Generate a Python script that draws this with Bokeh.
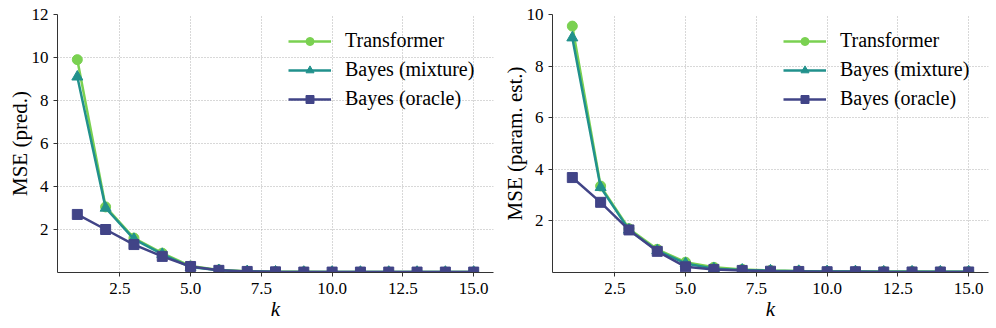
from bokeh.plotting import figure
from bokeh.layouts import row
from bokeh.models import FixedTicker, NumeralTickFormatter, Range1d, Legend, LegendItem
from bokeh.embed import file_html
from bokeh.resources import INLINE

k = list(range(1, 16))

pred_transformer = [9.9, 3.05, 1.6, 0.9, 0.3, 0.12, 0.06, 0.04, 0.03, 0.02, 0.02, 0.02, 0.02, 0.02, 0.02]
pred_mixture = [9.1, 3.0, 1.55, 0.85, 0.25, 0.1, 0.05, 0.03, 0.02, 0.02, 0.02, 0.02, 0.02, 0.02, 0.02]
pred_oracle = [2.7, 2.0, 1.3, 0.75, 0.28, 0.1, 0.05, 0.03, 0.02, 0.02, 0.02, 0.02, 0.02, 0.02, 0.02]

param_transformer = [9.55, 3.35, 1.7, 0.9, 0.4, 0.2, 0.12, 0.08, 0.06, 0.05, 0.04, 0.04, 0.04, 0.03, 0.03]
param_mixture = [9.1, 3.3, 1.65, 0.85, 0.35, 0.15, 0.1, 0.07, 0.05, 0.04, 0.04, 0.03, 0.03, 0.03, 0.03]
param_oracle = [3.68, 2.72, 1.65, 0.82, 0.22, 0.12, 0.08, 0.05, 0.04, 0.03, 0.03, 0.02, 0.02, 0.02, 0.02]

series_names = ["Transformer", "Bayes (mixture)", "Bayes (oracle)"]
x_ticks = [2.5, 5.0, 7.5, 10.0, 12.5, 15.0]
left_yticks = [2, 4, 6, 8, 10, 12]
right_yticks = [2, 4, 6, 8, 10]

COLORS = ["#7ad151", "#21918c", "#414487"]
MARKERS = ["circle", "triangle", "square"]
FONT = "Liberation Serif"


def make_plot(ylabel, series, ymax, yticks, border_left, border_right):
    p = figure(frame_width=436, frame_height=258, output_backend="svg", toolbar_location=None,
               x_range=Range1d(0.3, 15.7), y_range=Range1d(0, ymax),
               min_border_left=border_left, min_border_right=border_right,
               min_border_top=14, min_border_bottom=56)
    p.outline_line_color = None
    p.background_fill_color = "white"
    items = []
    for vals, name, c, m in zip(series, series_names, COLORS, MARKERS):
        l = p.line(k, vals, line_color=c, line_width=2.5)
        s = p.scatter(k, vals, marker=m, size=10 if m != "triangle" else 11,
                      fill_color=c, line_color=c)
        items.append(LegendItem(label=name, renderers=[l, s]))
    leg = Legend(items=items, location=(219, 150), margin=0, padding=12,
                 border_line_alpha=0, background_fill_alpha=0,
                 label_text_font=FONT, label_text_font_size="20px",
                 glyph_width=43, glyph_height=20, label_standoff=14, spacing=6,
                 label_text_color="black")
    p.add_layout(leg, "center")

    for ax in (p.xaxis, p.yaxis):
        ax.axis_line_color = "#333333"
        ax.major_tick_line_color = "#333333"
        ax.minor_tick_line_color = None
        ax.major_tick_out = 4
        ax.major_tick_in = 0
        ax.major_label_text_font = FONT
        ax.major_label_text_font_size = "17px"
        ax.major_label_text_color = "black"
        ax.axis_label_text_font = FONT
        ax.axis_label_text_color = "black"
        ax.axis_label_text_font_size = "21px"
        ax.axis_label_text_font_style = "normal"

    p.xaxis.ticker = FixedTicker(ticks=x_ticks)
    p.xaxis.formatter = NumeralTickFormatter(format="0.0")
    p.xaxis.axis_label = "k"
    p.xaxis.axis_label_text_font_style = "italic"
    p.xaxis.major_label_standoff = 6
    p.xaxis.axis_label_standoff = 0
    p.yaxis.ticker = FixedTicker(ticks=yticks)
    p.yaxis.axis_label = ylabel
    p.yaxis.major_label_standoff = 5
    p.yaxis.axis_label_standoff = -3

    for g in (p.xgrid, p.ygrid):
        g.grid_line_color = "#b0b0b0"
        g.grid_line_dash = "1 2"
        g.grid_line_width = 1
    p.xgrid.ticker = FixedTicker(ticks=x_ticks)
    p.ygrid.ticker = FixedTicker(ticks=yticks)
    return p


p1 = make_plot("MSE (pred.)", [pred_transformer, pred_mixture, pred_oracle], 12, left_yticks, 57, 3)
p2 = make_plot("MSE (param. est.)", [param_transformer, param_mixture, param_oracle], 10, right_yticks, 56, 8)

layout = row(p1, p2)
open("out.html", "w").write(file_html(layout, INLINE))
